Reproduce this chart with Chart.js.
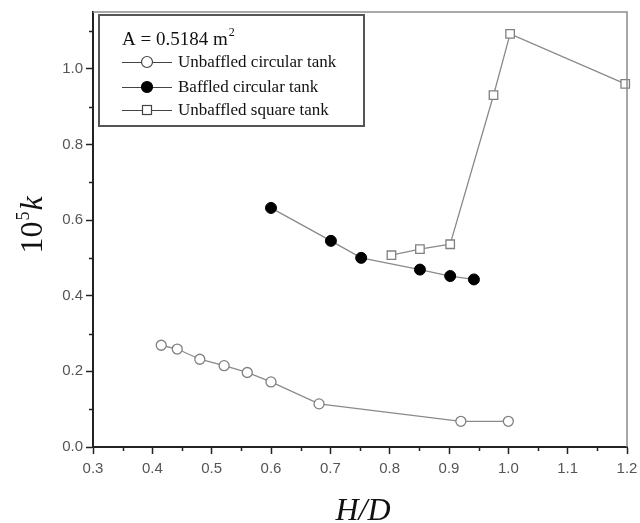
<!DOCTYPE html>
<html>
<head>
<meta charset="utf-8">
<script src="https://cdn.jsdelivr.net/npm/chart.js@4"></script>
<style>
  html, body { margin: 0; padding: 0; background: #fff; }
  #wrap { width: 640px; height: 523px; }
</style>
</head>
<body>
<div id="wrap"><canvas id="myChart" width="640" height="523"></canvas></div>
<script>
// values (H/D, 10^5 k)
const unbaffledCircX = [0.415, 0.442, 0.48, 0.521, 0.56, 0.6, 0.681, 0.92, 1.0];
const unbaffledCircY = [0.269, 0.259, 0.232, 0.215, 0.197, 0.172, 0.114, 0.068, 0.068];
const baffledCircX = [0.6, 0.701, 0.752, 0.851, 0.902, 0.942];
const baffledCircY = [0.632, 0.545, 0.5, 0.469, 0.452, 0.443];
const squareX = [0.803, 0.851, 0.902, 0.975, 1.003, 1.197];
const squareY = [0.507, 0.523, 0.536, 0.93, 1.092, 0.96];
const seriesNames = ['Unbaffled circular tank', 'Baffled circular tank', 'Unbaffled square tank'];
const xTicks = [0.3, 0.4, 0.5, 0.6, 0.7, 0.8, 0.9, 1.0, 1.1, 1.2];
const yTicks = [0.0, 0.2, 0.4, 0.6, 0.8, 1.0];

const lineGray = '#8a8a8a';

function toPoints(xs, ys) {
    return xs.map((x, i) => ({ x: x, y: ys[i] }));
}

// minor ticks, frame, legend box and axis titles
const extras = {
    id: 'extras',
    afterDraw(chart) {
        const c = chart.ctx;
        const a = chart.chartArea;
        const xs = chart.scales.x;
        const ys = chart.scales.y;
        c.save();

        // gray top / right frame
        c.strokeStyle = '#8c8c8c';
        c.lineWidth = 1.5;
        c.beginPath();
        c.moveTo(a.left, a.top);
        c.lineTo(a.right, a.top);
        c.lineTo(a.right, a.bottom);
        c.stroke();

        // minor ticks
        c.strokeStyle = '#222';
        c.lineWidth = 1.5;
        c.beginPath();
        for (let i = 0; i < xTicks.length - 1; i++) {
            const px = Math.round(xs.getPixelForValue(xTicks[i] + 0.05)) + 0.5;
            c.moveTo(px, a.bottom);
            c.lineTo(px, a.bottom + 4);
        }
        for (let v = 0.1; v < 1.15; v += 0.2) {
            const py = Math.round(ys.getPixelForValue(v)) + 0.5;
            c.moveTo(a.left, py);
            c.lineTo(a.left - 4, py);
        }
        c.stroke();

        // legend box
        const bx = 99, by = 15, bw = 265, bh = 111;
        c.strokeStyle = '#555';
        c.lineWidth = 2;
        c.strokeRect(bx, by, bw, bh);

        c.fillStyle = '#111';
        c.font = '19px "Liberation Serif", serif';
        c.textBaseline = 'alphabetic';
        c.textAlign = 'left';
        const head = 'A = 0.5184 m';
        c.fillText(head, 122, 45);
        const hw = c.measureText(head).width;
        c.font = '12px "Liberation Serif", serif';
        c.fillText('2', 122 + hw + 1, 36);

        const rowsY = [62, 87, 110];
        chart.data.datasets.forEach((ds, i) => {
            const ry = rowsY[i];
            c.strokeStyle = '#444';
            c.lineWidth = 1;
            c.beginPath();
            c.moveTo(122, ry + 0.5);
            c.lineTo(172, ry + 0.5);
            c.stroke();
            c.lineWidth = 1.2;
            if (ds.pointStyle === 'rect') {
                c.fillStyle = '#fff';
                c.fillRect(142, ry - 5, 10, 10);
                c.strokeStyle = '#444';
                c.strokeRect(142.5, ry - 4.5, 9, 9);
            } else {
                c.beginPath();
                c.arc(147, ry, 5.5, 0, Math.PI * 2);
                c.fillStyle = ds.pointBackgroundColor;
                c.fill();
                c.strokeStyle = ds.pointBackgroundColor === '#000' ? '#000' : '#444';
                c.stroke();
            }
            c.fillStyle = '#111';
            c.font = '17px "Liberation Serif", serif';
            c.textBaseline = 'middle';
            c.fillText(seriesNames[i], 178, ry + 1);
            c.textBaseline = 'alphabetic';
        });

        // x axis title
        c.fillStyle = '#111';
        c.font = 'italic 32px "Liberation Serif", serif';
        c.textAlign = 'center';
        c.fillText('H/D', 363, 520);

        // y axis title
        c.translate(42, 225);
        c.rotate(-Math.PI / 2);
        c.textAlign = 'left';
        c.font = '32px "Liberation Serif", serif';
        const w10 = c.measureText('10').width;
        c.font = '18px "Liberation Serif", serif';
        const w5 = c.measureText('5').width;
        c.font = 'italic 32px "Liberation Serif", serif';
        const wk = c.measureText('k').width;
        let x0 = -(w10 + w5 + wk + 2) / 2;
        c.font = '32px "Liberation Serif", serif';
        c.fillText('10', x0, 0);
        c.font = '18px "Liberation Serif", serif';
        c.fillText('5', x0 + w10 + 1, -13);
        c.font = 'italic 32px "Liberation Serif", serif';
        c.fillText('k', x0 + w10 + w5 + 2, 0);

        c.restore();
    }
};

const tickFont = { family: '"Liberation Sans", Arial, sans-serif', size: 15 };

const config = {
    type: 'scatter',
    data: {
        datasets: [{
            label: seriesNames[0],
            data: toPoints(unbaffledCircX, unbaffledCircY),
            showLine: true,
            borderColor: lineGray,
            borderWidth: 1.3,
            pointStyle: 'circle',
            pointRadius: 5,
            pointBackgroundColor: '#fff',
            pointBorderColor: '#808080',
            pointBorderWidth: 1.3,
        }, {
            label: seriesNames[1],
            data: toPoints(baffledCircX, baffledCircY),
            showLine: true,
            borderColor: lineGray,
            borderWidth: 1.3,
            pointStyle: 'circle',
            pointRadius: 5.5,
            pointBackgroundColor: '#000',
            pointBorderColor: '#000',
            pointBorderWidth: 1,
        }, {
            label: seriesNames[2],
            data: toPoints(squareX, squareY),
            showLine: true,
            borderColor: lineGray,
            borderWidth: 1.3,
            pointStyle: 'rect',
            pointRadius: 6,
            pointBackgroundColor: '#fff',
            pointBorderColor: '#808080',
            pointBorderWidth: 1.3,
        }]
    },
    options: {
        responsive: false,
        animation: false,
        clip: false,
        layout: { padding: { top: 12, right: 13, left: 0, bottom: 0 } },
        plugins: {
            legend: { display: false },
            tooltip: { enabled: false },
        },
        scales: {
            x: {
                type: 'linear',
                min: 0.3,
                max: 1.2,
                afterFit: (s) => { s.height = 76; s.paddingLeft = 0; s.paddingRight = 0; },
                afterBuildTicks: (s) => { s.ticks = xTicks.map(v => ({ value: v })); },
                ticks: {
                    font: tickFont,
                    color: '#555',
                    padding: 6,
                    maxRotation: 0,
                    callback: (v) => v.toFixed(1),
                },
                grid: { drawOnChartArea: false, tickLength: 7, tickWidth: 1.5, tickColor: '#222' },
                border: { color: '#222', width: 2 },
            },
            y: {
                type: 'linear',
                min: 0,
                max: 1.15,
                afterFit: (s) => { s.width = 93; s.paddingTop = 0; s.paddingBottom = 0; },
                afterBuildTicks: (s) => { s.ticks = yTicks.map(v => ({ value: v })); },
                ticks: {
                    font: tickFont,
                    color: '#555',
                    padding: 3,
                    callback: (v) => v.toFixed(1),
                },
                grid: { drawOnChartArea: false, tickLength: 7, tickWidth: 1.5, tickColor: '#222' },
                border: { color: '#222', width: 2 },
            }
        }
    },
    plugins: [extras]
};

const myChart = new Chart(document.getElementById('myChart'), config);
</script>
</body>
</html>
